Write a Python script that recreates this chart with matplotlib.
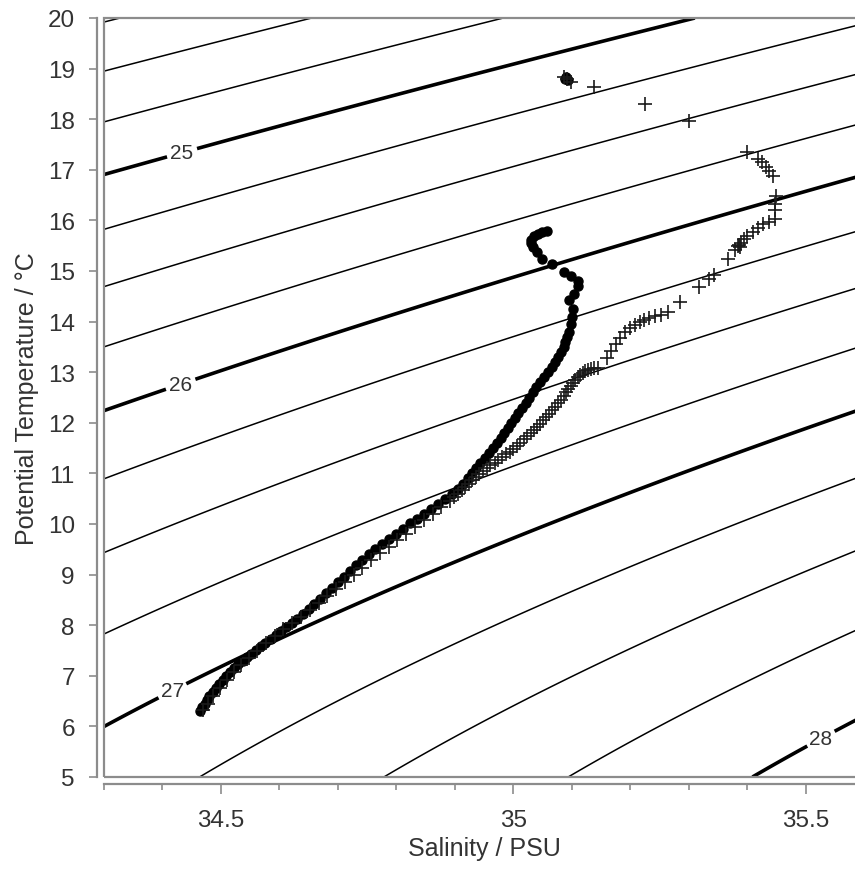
import numpy as np
import matplotlib.pyplot as plt
from matplotlib.patches import Rectangle
from matplotlib.ticker import MultipleLocator, FuncFormatter

plt.rcParams['font.family'] = ['Liberation Sans', 'DejaVu Sans']

# profile 1 (filled dots): salinity, potential temperature
sal_dots = [34.465, 34.468, 34.472, 34.476, 34.480, 34.486, 34.491, 34.497, 34.503, 34.509,
            34.516, 34.523, 34.530, 34.537, 34.545, 34.552, 34.560, 34.568, 34.576, 34.585,
            34.594, 34.603, 34.612, 34.621, 34.630, 34.640, 34.650, 34.660, 34.670, 34.680,
            34.690, 34.700, 34.710, 34.720, 34.731, 34.742, 34.753, 34.764, 34.776, 34.788,
            34.800, 34.812, 34.824, 34.836, 34.848, 34.860, 34.872, 34.884, 34.895, 34.905,
            34.914, 34.922, 34.930, 34.937, 34.944, 34.951, 34.958, 34.965, 34.972, 34.979,
            34.985, 34.991, 34.997, 35.003, 35.009, 35.015, 35.021, 35.027, 35.033, 35.039,
            35.046, 35.053, 35.060, 35.066, 35.072, 35.077, 35.082, 35.086, 35.089, 35.092,
            35.095, 35.098, 35.100, 35.103, 35.096, 35.104, 35.110, 35.110, 35.098, 35.086,
            35.067, 35.050, 35.040, 35.033, 35.030, 35.031, 35.035, 35.042, 35.050, 35.057,
            35.088, 35.090, 35.093]
temp_dots = [6.30, 6.38, 6.45, 6.52, 6.60, 6.68, 6.76, 6.84, 6.92, 7.00,
             7.08, 7.16, 7.23, 7.30, 7.37, 7.44, 7.51, 7.58, 7.65, 7.73,
             7.81, 7.89, 7.97, 8.05, 8.13, 8.22, 8.32, 8.42, 8.52, 8.63,
             8.74, 8.85, 8.96, 9.07, 9.18, 9.29, 9.40, 9.51, 9.61, 9.71,
             9.81, 9.91, 10.01, 10.10, 10.20, 10.30, 10.40, 10.50, 10.60, 10.70,
             10.80, 10.90, 11.00, 11.10, 11.20, 11.30, 11.40, 11.50, 11.60, 11.70,
             11.80, 11.90, 12.00, 12.10, 12.20, 12.30, 12.40, 12.50, 12.60, 12.70,
             12.80, 12.90, 13.00, 13.10, 13.20, 13.30, 13.40, 13.50, 13.60, 13.70,
             13.80, 13.95, 14.10, 14.25, 14.42, 14.55, 14.70, 14.80, 14.90, 14.98,
             15.14, 15.24, 15.38, 15.47, 15.55, 15.62, 15.69, 15.74, 15.78, 15.80,
             18.80, 18.84, 18.78]

# profile 2 (crosses)
sal_cross = [34.470, 34.478, 34.487, 34.498, 34.510, 34.522, 34.535, 34.548, 34.562, 34.577,
             34.592, 34.607, 34.622, 34.637, 34.652, 34.667, 34.682, 34.697, 34.712, 34.727,
             34.742, 34.757, 34.772, 34.787, 34.802, 34.817, 34.832, 34.847, 34.862, 34.877,
             34.891, 34.898, 34.905, 34.912, 34.918, 34.924, 34.930, 34.936, 34.942, 34.948,
             34.955, 34.961, 34.968, 34.974, 34.981, 34.987, 34.994, 35.000, 35.006, 35.012,
             35.018, 35.024, 35.030, 35.036, 35.041, 35.046, 35.051, 35.056, 35.061, 35.066,
             35.071, 35.076, 35.081, 35.086, 35.090, 35.094, 35.098, 35.102, 35.106, 35.110,
             35.114, 35.119, 35.123, 35.128, 35.133, 35.139, 35.145, 35.160, 35.168, 35.175,
             35.183, 35.192, 35.200, 35.208, 35.216, 35.224, 35.232, 35.242, 35.252, 35.264,
             35.286, 35.317, 35.335, 35.343, 35.368, 35.380, 35.384, 35.386, 35.388, 35.390,
             35.394, 35.400, 35.410, 35.418, 35.428, 35.438, 35.447, 35.447, 35.447, 35.449,
             35.444, 35.438, 35.432, 35.426, 35.418, 35.400, 35.300, 35.225, 35.138, 35.098,
             35.092, 35.086]
temp_cross = [6.32, 6.45, 6.60, 6.75, 6.92, 7.08, 7.22, 7.36, 7.50, 7.64,
              7.78, 7.92, 8.04, 8.16, 8.30, 8.44, 8.58, 8.72, 8.86, 9.00,
              9.14, 9.28, 9.42, 9.55, 9.68, 9.81, 9.94, 10.07, 10.20, 10.33,
              10.46, 10.53, 10.60, 10.67, 10.74, 10.80, 10.87, 10.93, 10.99, 11.05,
              11.10, 11.16, 11.21, 11.27, 11.32, 11.38, 11.43, 11.49, 11.55, 11.61,
              11.67, 11.73, 11.79, 11.85, 11.92, 11.98, 12.05, 12.11, 12.18, 12.25,
              12.32, 12.39, 12.46, 12.53, 12.60, 12.66, 12.73, 12.79, 12.85, 12.90,
              12.95, 12.99, 13.02, 13.04, 13.06, 13.08, 13.09, 13.28, 13.42, 13.56,
              13.68, 13.79, 13.87, 13.94, 14.00, 14.04, 14.08, 14.11, 14.14, 14.19,
              14.39, 14.68, 14.85, 14.92, 15.24, 15.42, 15.49, 15.52, 15.47, 15.56,
              15.63, 15.70, 15.78, 15.85, 15.92, 15.97, 16.03, 16.20, 16.32, 16.48,
              16.88, 16.97, 17.06, 17.15, 17.22, 17.35, 17.96, 18.30, 18.64, 18.74,
              18.80, 18.83]

thin_levels = [24.25, 24.5, 24.75, 25.25, 25.5, 25.75, 26.25, 26.5, 26.75, 27.25, 27.5, 27.75]
thick_levels = [25, 26, 27, 28]
label_pos = [(34.432, 17.4), (34.43, 12.8), (34.415, 6.75), (35.522, 5.85)]


def sigma_theta(s, t):
    # UNESCO EOS-80 density at surface pressure, minus 1000
    rw = (999.842594 + 6.793952e-2 * t - 9.095290e-3 * t**2 + 1.001685e-4 * t**3
          - 1.120083e-6 * t**4 + 6.536332e-9 * t**5)
    a = 8.24493e-1 - 4.0899e-3 * t + 7.6438e-5 * t**2 - 8.2467e-7 * t**3 + 5.3875e-9 * t**4
    b = -5.72466e-3 + 1.0227e-4 * t - 1.6546e-6 * t**2
    c = 4.8314e-4
    return rw + a * s + b * s**1.5 + c * s**2 - 1000


gray = '#8c8c8c'
txt = '#333333'

fig = plt.figure(figsize=(8.55, 8.70), dpi=100)
ax = fig.add_axes([104 / 855, 1 - 778 / 870, (864 - 104) / 855, (778 - 19) / 870])

S, T = np.meshgrid(np.linspace(34.3, 35.6, 400), np.linspace(5, 20, 400))
sig = sigma_theta(S, T)
ax.contour(S, T, sig, levels=thin_levels, colors='k', linewidths=1.1)
cs = ax.contour(S, T, sig, levels=thick_levels, colors='k', linewidths=2.6)
labs = ax.clabel(cs, fmt='%d', fontsize=15, colors=txt, manual=label_pos, inline=True, inline_spacing=4)
for t in labs:
    t.set_rotation(0)

ax.plot(sal_dots, temp_dots, 'o', ms=6.5, color='k', mec='k', zorder=3)
ax.plot(sal_cross, temp_cross, '+', ms=10, mew=1.2, color='#1a1a1a', zorder=4)

ax.set_xlim(34.3, 35.6)
ax.set_ylim(5, 20)

ax.add_patch(Rectangle((0, 0), 1, 1, transform=ax.transAxes, fill=False, ec=gray, lw=1.6,
                       clip_on=False, zorder=5))
for side in ['top', 'right']:
    ax.spines[side].set_visible(False)
ax.spines['left'].set_position(('outward', 5))
ax.spines['bottom'].set_position(('outward', 5))
for side in ['left', 'bottom']:
    ax.spines[side].set_color(gray)
    ax.spines[side].set_linewidth(1.6)

ax.xaxis.set_major_locator(MultipleLocator(0.5))
ax.xaxis.set_minor_locator(MultipleLocator(0.1))
ax.yaxis.set_major_locator(MultipleLocator(1))
ax.xaxis.set_major_formatter(FuncFormatter(lambda v, p: '%g' % v))
ax.tick_params(axis='both', which='major', color=gray, width=1.2, labelcolor=txt, labelsize=17.5)
ax.tick_params(axis='x', which='major', length=7, pad=11)
ax.tick_params(axis='x', which='minor', length=4, color=gray, width=1.2)
ax.tick_params(axis='y', which='major', length=6, pad=10)

ax.set_xlabel('Salinity / PSU', fontsize=18, color=txt, labelpad=4)
ax.set_ylabel('Potential Temperature / °C', fontsize=18, color=txt, labelpad=6)

fig.savefig('out.png', dpi=100)
